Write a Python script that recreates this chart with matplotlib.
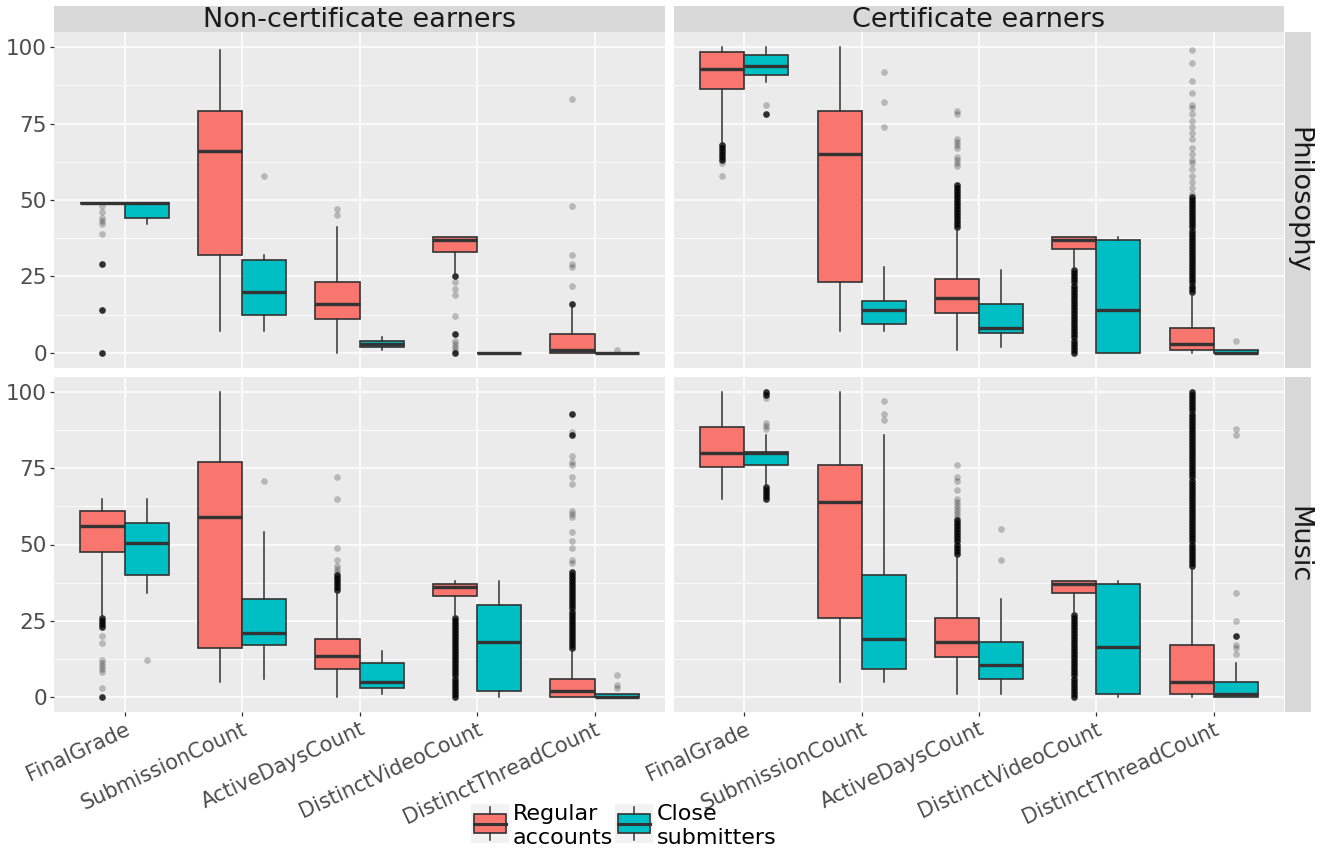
import numpy as np
import matplotlib.pyplot as plt
from matplotlib.patches import Rectangle

plt.rcParams['font.family'] = ['DejaVu Sans']

metrics = ["FinalGrade", "SubmissionCount", "ActiveDaysCount",
           "DistinctVideoCount", "DistinctThreadCount"]
col_titles = ["Non-certificate earners", "Certificate earners"]
row_titles = ["Philosophy", "Music"]
group_labels = ["Regular\naccounts", "Close\nsubmitters"]
group_colors = ["#F8766D", "#00BFC4"]

# box stats per metric: [whisker low, q1, median, q3, whisker high]
phil_non_regular = [[49, 49, 49, 49, 49], [7, 32, 66, 79.3, 99], [0, 11, 16, 23, 41],
                    [25, 33, 37, 38, 38], [0, 0, 1, 6, 15]]
phil_non_close = [[42, 44, 49, 49, 49], [7, 12.5, 20, 30.5, 32], [1, 2, 3, 4, 5],
                  [0, 0, 0, 0, 0], [0, 0, 0, 0, 0]]
phil_cert_regular = [[68.5, 86.5, 93, 98.5, 100], [7, 23, 65, 79, 100], [1, 13, 18, 24, 40],
                     [28, 34, 37, 38, 38], [0, 1, 3, 8, 19]]
phil_cert_close = [[88.5, 91, 94, 97.5, 100], [7, 9.5, 14, 17, 28], [2, 6.5, 8, 16, 27],
                   [0, 0, 14, 37, 38], [0, 0, 0, 1, 1]]
music_non_regular = [[27, 47.5, 56, 61, 65], [5, 16, 59, 77, 100], [0, 9, 13.5, 19, 34],
                     [27, 33, 36, 37, 38], [0, 0, 2, 6, 15]]
music_non_close = [[34, 40, 50.5, 57, 65], [6, 17, 21, 32, 54], [1, 3, 5, 11, 15],
                   [0, 2, 18, 30, 38], [0, 0, 0, 1, 1]]
music_cert_regular = [[65, 75.5, 80, 88.5, 100], [5, 26, 64, 76, 100], [1, 13, 18, 26, 46],
                      [28, 34, 37, 38, 38], [0, 1, 5, 17, 42]]
music_cert_close = [[70, 76, 80, 80.5, 86], [5, 9, 19, 40, 86], [1, 6, 10.5, 18, 32],
                    [0, 1, 16.5, 37, 38], [0, 0, 1, 5, 11]]

# outliers: isolated points and heavily overplotted ones
phil_non_regular_out = [[48, 46, 44, 43, 42, 39], [], [47, 45],
                        [23, 21, 19, 12, 4, 3, 2, 1], [83, 48, 32, 29, 28, 22]]
phil_non_regular_dense = [[29, 14, 0], [], [], [25, 6, 0], [16]]
phil_non_close_out = [[], [58], [], [], [1]]
phil_non_close_dense = [[], [], [], [], []]

phil_cert_regular_out = [[62, 58], [], [79, 78, 70, 69, 68, 67, 64, 63, 62, 61], [],
                         [99, 95, 89, 85, 81, 80, 78, 76, 74, 72, 70, 67, 65, 63, 62, 60,
                          58, 56, 54, 52]]
phil_cert_regular_dense = [[68, 67, 66, 65, 64, 63], [],
                           [41, 42, 43, 44, 45, 46, 47, 48, 49, 50, 51, 52, 53, 54, 55],
                           [0, 1, 2, 3, 4, 5, 6, 7, 8, 9, 10, 11, 12, 13, 14, 15, 16, 17,
                            18, 19, 20, 21, 22, 23, 24, 25, 26, 27],
                           [20, 21, 22, 23, 24, 25, 26, 27, 28, 29, 30, 31, 32, 33, 34, 35,
                            36, 37, 38, 39, 40, 41, 42, 43, 44, 45, 46, 47, 48, 49, 50, 51]]
phil_cert_close_out = [[81], [92, 82, 74], [], [], [4]]
phil_cert_close_dense = [[78], [], [], [], []]

music_non_regular_out = [[20, 17.5, 12, 11, 10, 9, 8, 3], [], [72, 65, 49, 45, 43, 42, 41], [],
                         [87, 79, 77, 76, 72, 70, 61, 60, 59, 54, 51, 49, 45, 44]]
music_non_regular_dense = [[26, 25, 24, 23, 0], [], [40, 39, 38, 37, 36, 35],
                           [0, 1, 2, 3, 4, 5, 6, 7, 8, 9, 10, 11, 12, 13, 14, 15, 16, 17,
                            18, 19, 20, 21, 22, 23, 24, 25, 26],
                           [93, 86, 16, 17, 18, 19, 20, 21, 22, 23, 24, 25, 26, 27, 28, 29,
                            30, 31, 32, 33, 34, 35, 36, 37, 38, 39, 40, 41]]
music_non_close_out = [[12], [71], [], [], [7, 4, 3]]
music_non_close_dense = [[], [], [], [], []]

music_cert_regular_out = [[], [], [76, 72, 71, 68, 65, 64, 63, 62, 61, 60, 59], [], []]
music_cert_regular_dense = [[], [],
                            [47, 48, 49, 50, 51, 52, 53, 54, 55, 56, 57, 58],
                            [0, 1, 2, 3, 4, 5, 6, 7, 8, 9, 10, 11, 12, 13, 14, 15, 16, 17,
                             18, 19, 20, 21, 22, 23, 24, 25, 26, 27],
                            [43, 44, 45, 46, 47, 48, 49, 50, 51, 52, 53, 54, 55, 56, 57, 58,
                             59, 60, 61, 62, 63, 64, 65, 66, 67, 68, 69, 70, 71, 72, 73, 74,
                             75, 76, 77, 78, 79, 80, 81, 82, 83, 84, 85, 86, 87, 88, 89, 90,
                             91, 92, 93, 94, 95, 96, 97, 98, 99, 100]]
music_cert_close_out = [[98, 90, 89, 88], [97, 93, 91], [55, 45], [],
                        [88, 86, 34, 25, 17, 16, 14]]
music_cert_close_dense = [[100, 99, 69, 68, 67, 66, 65], [], [], [], [20]]

panels = [
    [(phil_non_regular, phil_non_regular_out, phil_non_regular_dense,
      phil_non_close, phil_non_close_out, phil_non_close_dense),
     (phil_cert_regular, phil_cert_regular_out, phil_cert_regular_dense,
      phil_cert_close, phil_cert_close_out, phil_cert_close_dense)],
    [(music_non_regular, music_non_regular_out, music_non_regular_dense,
      music_non_close, music_non_close_out, music_non_close_dense),
     (music_cert_regular, music_cert_regular_out, music_cert_regular_dense,
      music_cert_close, music_cert_close_out, music_cert_close_dense)],
]

EDGE = "#333333"
W, H = 1328, 852


def px_box(x0, y0, x1, y1):
    # pixel box (top-left origin) -> figure fraction rect
    return [x0 / W, 1 - y1 / H, (x1 - x0) / W, (y1 - y0) / H]


def draw_group(ax, stats, out, dense, offset, color):
    pos = np.arange(1, len(stats) + 1) + offset
    bstats = [dict(whislo=s[0], q1=s[1], med=s[2], q3=s[3], whishi=s[4], fliers=[])
              for s in stats]
    ax.bxp(bstats, positions=pos, widths=0.375, patch_artist=True,
           showfliers=False, showcaps=False, zorder=3,
           boxprops=dict(facecolor=color, edgecolor=EDGE, linewidth=1.2),
           medianprops=dict(color=EDGE, linewidth=2.4, solid_capstyle='butt'),
           whiskerprops=dict(color=EDGE, linewidth=1.1))
    for i in range(len(stats)):
        if out[i]:
            ax.plot([pos[i]] * len(out[i]), out[i], 'o', color='black', alpha=0.22,
                    ms=4.8, mec='none', zorder=2)
        if dense[i]:
            ax.plot([pos[i]] * len(dense[i]), dense[i], 'o', color='black', alpha=0.8,
                    ms=4.8, mec='none', zorder=2)


fig = plt.figure(figsize=(W / 100, H / 100), dpi=100)

col_x = [(54, 665), (674, 1284)]
row_y = [(32, 368), (377, 712)]

for r in range(2):
    for c in range(2):
        ax = fig.add_axes(px_box(col_x[c][0], row_y[r][0], col_x[c][1], row_y[r][1]))
        ax.set_facecolor("#EBEBEB")
        for sp in ax.spines.values():
            sp.set_visible(False)
        reg, reg_out, reg_dense, clo, clo_out, clo_dense = panels[r][c]
        draw_group(ax, reg, reg_out, reg_dense, -0.1875, group_colors[0])
        draw_group(ax, clo, clo_out, clo_dense, 0.1875, group_colors[1])
        ax.set_xlim(0.4, 5.6)
        ax.set_ylim(-5, 105)
        ax.set_yticks([0, 25, 50, 75, 100])
        ax.set_yticks([12.5, 37.5, 62.5, 87.5], minor=True)
        ax.set_xticks(np.arange(1, 6))
        ax.grid(True, which='major', color='white', linewidth=1.1, zorder=0)
        ax.grid(True, which='minor', axis='y', color='white', linewidth=0.55, zorder=0)
        ax.set_axisbelow(True)
        ax.tick_params(which='minor', length=0)
        ax.tick_params(which='major', length=3, width=0.9, color=EDGE, pad=2,
                       labelsize=15.5, labelcolor="#4D4D4D")
        if c == 0:
            ax.set_yticklabels(["0", "25", "50", "75", "100"])
        else:
            ax.tick_params(axis='y', left=False, labelleft=False)
        if r == 1:
            ax.set_xticklabels(metrics, rotation=25, ha='right', va='top',
                               rotation_mode='anchor', fontsize=15)
        else:
            ax.tick_params(axis='x', bottom=False, labelbottom=False)

# column strips
for c in range(2):
    sax = fig.add_axes(px_box(col_x[c][0], 6, col_x[c][1], 32))
    sax.set_facecolor("#D9D9D9")
    sax.set_xticks([])
    sax.set_yticks([])
    for sp in sax.spines.values():
        sp.set_visible(False)
    sax.text(0.5, 0.45, col_titles[c], ha='center', va='center', fontsize=19.5,
             color="#1A1A1A", transform=sax.transAxes)

# row strips
for r in range(2):
    sax = fig.add_axes(px_box(1285, row_y[r][0], 1311, row_y[r][1]))
    sax.set_facecolor("#D9D9D9")
    sax.set_xticks([])
    sax.set_yticks([])
    for sp in sax.spines.values():
        sp.set_visible(False)
    sax.text(0.5, 0.5, row_titles[r], ha='center', va='center', fontsize=19.5,
             rotation=-90, color="#1A1A1A", transform=sax.transAxes)

# legend keys
key_x = [471, 615]
for g in range(2):
    kax = fig.add_axes(px_box(key_x[g], 804, key_x[g] + 38, 843))
    kax.set_facecolor("#F2F2F2")
    kax.set_xlim(0, 1)
    kax.set_ylim(0, 1)
    kax.set_xticks([])
    kax.set_yticks([])
    for sp in kax.spines.values():
        sp.set_visible(False)
    kax.plot([0.5, 0.5], [0.08, 0.25], color=EDGE, lw=1.1)
    kax.plot([0.5, 0.5], [0.75, 0.92], color=EDGE, lw=1.1)
    kax.add_patch(Rectangle((0.08, 0.25), 0.84, 0.5, facecolor=group_colors[g],
                            edgecolor=EDGE, lw=1.2))
    kax.plot([0.08, 0.92], [0.5, 0.5], color=EDGE, lw=2.2)
    fig.text((key_x[g] + 42) / W, 1 - 826 / H, group_labels[g], ha='left', va='center',
             fontsize=16, color="black", linespacing=1.3)

fig.savefig("out.png", dpi=100)
